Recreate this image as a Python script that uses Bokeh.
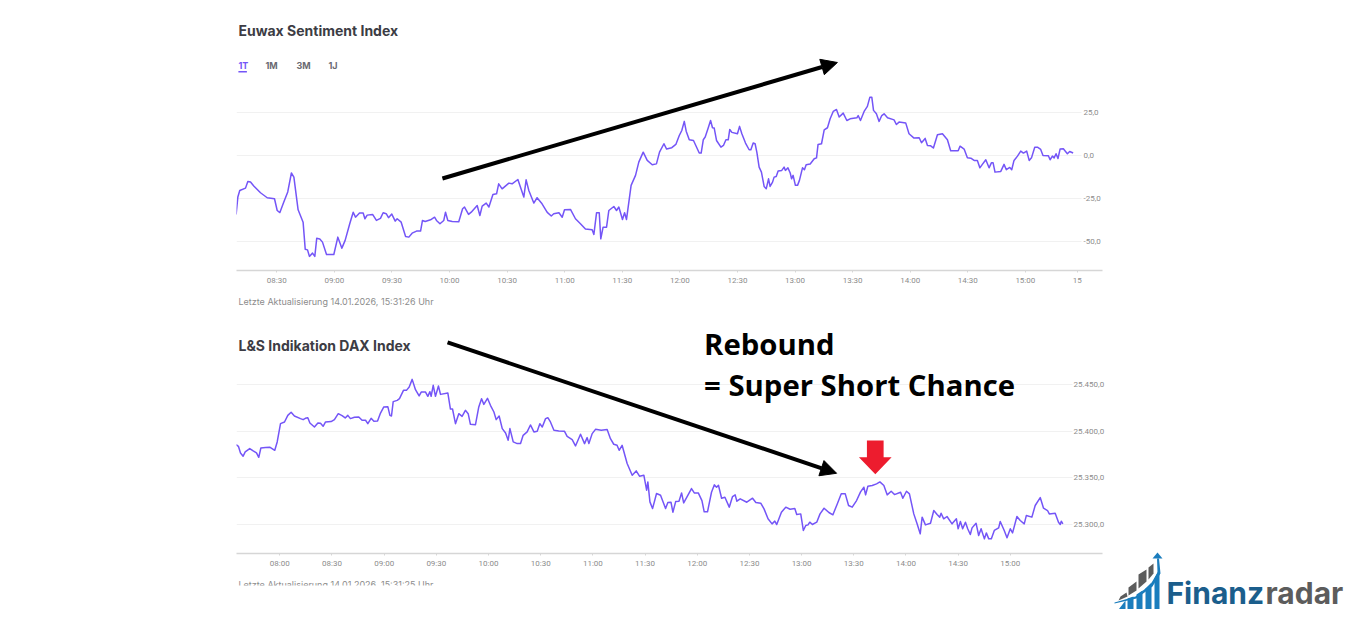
from bokeh.embed import file_html
from bokeh.layouts import column, row
from bokeh.models import Arrow, FixedTicker, Label, NormalHead, PolyAnnotation, Range1d
from bokeh.plotting import figure
from bokeh.resources import INLINE

# minutes since midnight, value
euwax_min = [488.8, 489.7, 490.7, 493.7, 494.9, 496.3, 498, 501.5, 505, 508.8, 510.2, 511.6, 513.6, 515.7, 517.6, 518.9,
             521.1, 523.7, 524.8, 526, 527, 528.6, 529.8, 530.8, 532.4, 533.8, 535.9, 539.7, 541.8, 543.9, 545.6, 548,
             549.8, 551, 553.1, 555, 555.9, 557.1, 559.9, 561.9, 564, 565.4, 567, 568.2, 569.9, 571.7, 572.7, 574.8,
             577.1, 578.8, 580.5, 582.8, 584.9, 585.9, 587.3, 590.1, 592.2, 593.2, 595, 597, 597.9, 599.1, 601.4, 604.8,
             606.8, 607.8, 609.9, 611.3, 614.4, 615.8, 617, 619.1, 620.5, 622.6, 624.5, 625.6, 627.4, 630.9, 632.6,
             635.6, 638.7, 639.9, 641.3, 643.9, 645.6, 648.2, 650.9, 653, 654.3, 657, 658.7, 659.9, 663, 665.6, 668.2,
             670.8, 674.3, 675.2, 676.6, 678, 678.8, 680, 681.8, 683, 685.6, 687, 688.2, 690.1, 691.2, 692.2, 694.6,
             696.9, 698.6, 700.9, 703, 705.6, 707.8, 709.4, 711.7, 713.1, 715.8, 717.9, 719.7, 721, 722.3, 723.3, 724.9,
             727.1, 730.1, 731.1, 732.2, 733.2, 734.8, 736, 737, 737.9, 739.1, 741.4, 742.7, 744, 745.2, 746, 747.1,
             750, 751.1, 752.3, 754.2, 756.1, 757, 758.2, 759.2, 760.1, 761.3, 762.5, 763.9, 765, 766.2, 767, 768.3,
             769.1, 770.2, 771.2, 773.1, 774.3, 775, 776.3, 777.5, 778.2, 779, 780.2, 781.3, 782.3, 783.9, 784.9, 785.8,
             787.9, 790, 791.2, 792, 793.8, 795.2, 796.9, 798.3, 799.9, 801.6, 803, 805.1, 807, 808.7, 812.2, 812.9,
             814.1, 816, 817.7, 819, 820, 820.9, 822.4, 823.8, 825.2, 826.4, 828.2, 831.6, 832.8, 834.2, 837.7, 839.4,
             842, 844.7, 845.9, 847.8, 849, 850.7, 852.1, 854.2, 856.8, 859.4, 861.1, 865, 866, 868.1, 869.8, 871.6,
             873.3, 875, 876.3, 877.6, 879.4, 881.1, 882.3, 883.2, 884.2, 887.2, 888.9, 890.1, 891.9, 892.9, 894.1,
             895.9, 897.6, 899, 900.7, 902, 903.2, 904.9, 906.3, 908, 909.2, 912, 912.9, 914.1, 915, 916, 917, 918.1,
             919.8, 921.9, 923.1, 924.9]
euwax_val = [-34.1, -24, -20.2, -18.8, -14.9, -15.3, -17.6, -21.5, -24.4, -25, -31.8, -33, -27, -21, -10, -12.4,
             -31.4, -38.6, -54.3, -54.7, -58.5, -56.6, -58.5, -48, -48.4, -50.2, -57.4, -57.4, -47.3, -53.7, -49.2, -39.5,
             -32.8, -35.7, -33.3, -33.3, -36.6, -34.5, -34.1, -37.6, -36.4, -33.1, -33.7, -36, -33.9, -38, -36.6, -38.6,
             -46.9, -47.3, -45, -43.8, -43.8, -37.6, -38.2, -37.2, -35.7, -37.6, -39.5, -37.6, -32.8, -37.6, -38.2, -38.4,
             -30.8, -29.8, -34.1, -32.8, -28.9, -34.7, -29.3, -27.5, -29.8, -22.5, -22.1, -16.3, -19.2, -15.9, -16.3,
             -13.8, -24, -14, -20.2, -27.5, -24.4, -27.9, -32.9, -35, -33.7, -33.1, -35.7, -31.4, -31.2, -36.6, -39.5,
             -42.6, -43, -45.7, -33.1, -33.1, -48.3, -41.5, -41.5, -31.8, -29.5, -31.8, -29.8, -37, -33.1, -37, -17.2,
             -11.4, -3.7, 2.1, -2.7, -5.2, -4.7, 2.1, 7, 3.9, 4.7, 6.6, 11.8, 14.7, 20, 14.3, 9.3,
             8.9, 1.6, 1.6, 9.3, 10.9, 16.3, 20.5, 16.3, 16.1, 8.9, 5, 6, 9.3, 9.3, 15.3, 13.6,
             12.8, 17.1, 12.8, 7.4, 3.5, 3.5, 7.4, 7, 2.1, -6.6, -9.5, -17.8, -19.2, -13.4, -17.8, -15.3,
             -12.4, -12, -8.9, -8.5, -6.6, -8.5, -7, -10, -13.4, -11.4, -17.2, -17.2, -14.3, -7, -8.1, -5.2,
             -4.8, -1.7, -1.2, 6.6, 7, 15.1, 16.3, 21.5, 25.8, 26.9, 22.5, 24.8, 20.5, 21.5, 22.1, 23.4,
             20.5, 25.8, 28.7, 34.1, 34.1, 26.4, 24.4, 20, 23.4, 24.4, 22.1, 20.9, 18.2, 19.6, 19, 12.8,
             10.3, 10.5, 7.6, 10.1, 6, 5.8, 4.5, 12.2, 12.8, 9.3, 2.9, 2.9, 5.6, 3.9, -1.2, -1.4,
             -2.7, -2.7, -7, -5, -2.3, -7, -4.1, -4.1, -9.5, -9.1, -5, -8.1, -6.8, -8.1, -2.7,
             -0.2, 2.7, 1.6, 2.7, -2.7, -1.2, 5, 5, 3.7, 0.2, 0, -2.3, -0.2, -1.2, 1.2, -1.6, 3.9,
             4.1, 1.2, 2.5, 1.6]

dax_min = [454.9, 456.2, 457.4, 458.9, 460.1, 462.7, 464.7, 466.6, 467.9, 469.1, 471.8, 474.2, 477.1, 478.5, 480.4, 482.7,
           484.6, 486.5, 488.4, 491.9, 493.4, 494.7, 496.1, 497.3, 499.9, 501.9, 503.4, 504.9, 506.3, 509.5, 511.4, 513.6,
           515.8, 517.6, 519.1, 520.6, 522.9, 525.4, 527.3, 529.3, 530.6, 532.5, 534.1, 536.2, 537.9, 539.8, 542.1, 543.3,
           544.2, 545.2, 547.5, 548.8, 551.1, 552.8, 554.4, 556.1, 558, 560.1, 561.3, 563.8, 565.1, 566.3, 567, 568.2,
           569.5, 571.2, 572.4, 576.6, 578.1, 579.3, 581, 582.9, 584.8, 586.7, 588.3, 589.6, 592.5, 594.4, 596, 597.3,
           599.4, 601.1, 603.1, 604.4, 606.1, 607.9, 609.8, 611.3, 612.3, 614.2, 616.5, 618.4, 619.9, 622.2, 624.1, 626.1,
           628, 629.5, 630.9, 632.8, 634.1, 635.6, 637.6, 640.4, 643.7, 645.2, 648.1, 650, 652.9, 655.2, 656.7, 657.7,
           659.6, 661.5, 664.8, 668.2, 670.1, 672, 673.9, 675.1, 676.8, 679.7, 682.6, 684.9, 686.8, 689.3, 690.9, 691.6,
           692.8, 694.3, 696.6, 698.9, 701.8, 703.1, 704.9, 706, 707.6, 709.5, 711, 712.2, 714.5, 716.7, 718.3, 720.6,
           722.7, 724, 725.9, 728.2, 729.8, 731.1, 732.2, 734, 735.9, 738.4, 740.3, 741.8, 742.8, 744.7, 748.5, 751.8,
           753.7, 756.5, 758.4, 760.7, 763, 764.6, 765.7, 768.4, 770.9, 773.4, 776.1, 777.2, 779.5, 781, 782.4, 783.7,
           784.7, 786.2, 788.7, 790.6, 792.9, 795.7, 798, 800.5, 802.8, 805.1, 807, 809.1, 811.6, 813.9, 815.8, 816.8,
           818.1, 820.6, 823.1, 825, 827.3, 829.2, 831.5, 833.4, 836.9, 838.2, 840.3, 842, 844.5, 846.4, 848.2, 849.3,
           851.2, 854.1, 856, 857.9, 859.4, 860.2, 861.7, 863.6, 866.5, 869, 870, 871.3, 872.6, 874.2, 875.5, 877,
           878, 880.3, 881.8, 883.2, 885.1, 886.2, 887.6, 889.1, 890.8, 893.3, 894.2, 896.5, 898.1, 900, 901.3, 903.8,
           905.7, 908, 909.2, 912.4, 914.3, 917.2, 919.1, 921.4, 922.4, 925.8, 927.7, 928.7, 929.3, 930.2]
dax_val = [25385.7, 25383.9, 25376.8, 25373.2, 25377.9, 25381.4, 25378.9, 25376.8, 25372.1, 25382.1, 25382.5, 25382.9, 25379.6, 25388.6, 25408.2, 25410,
           25417.1, 25420.4, 25416.4, 25413.6, 25412.5, 25413.9, 25414.6, 25408.9, 25404.6, 25408.9, 25408.6, 25405.4, 25410, 25410.4, 25412.5, 25418.9,
           25416.8, 25414.3, 25417.1, 25413.6, 25415, 25415.4, 25411.8, 25411.8, 25408.2, 25413.9, 25410.7, 25411.1, 25419.6, 25426.1, 25426.4, 25417.1,
           25416.4, 25431.8, 25433.2, 25435, 25443.9, 25443.9, 25447.5, 25455.7, 25444.6, 25437.9, 25442.1, 25442.1, 25437.5, 25442.5, 25437.5, 25449.3,
           25437.5, 25448.6, 25439.6, 25441.1, 25423.9, 25423.9, 25408.2, 25418.9, 25416, 25422.5, 25418.9, 25407.5, 25407.1, 25426.1, 25435, 25428.9,
           25435.4, 25427.9, 25420.7, 25412.5, 25416.4, 25402.9, 25398.2, 25390.4, 25402.9, 25388.6, 25386.8, 25386.8, 25395.7, 25399.3, 25406.8, 25399.3,
           25400, 25408.2, 25404.6, 25413.6, 25414.6, 25410, 25401.1, 25400.4, 25400, 25394.6, 25391.1, 25384.3, 25396.8, 25386.8, 25393.2, 25386.8,
           25397.5, 25402.1, 25401.1, 25401.8, 25392.1, 25386.1, 25385, 25379.6, 25385, 25365.4, 25352.9, 25357.5, 25351.8, 25352.9, 25336.8, 25345.7,
           25324.3, 25317.1, 25333.2, 25331.4, 25317.1, 25323.6, 25323.9, 25313.2, 25324.6, 25325, 25333.9, 25323.2, 25331, 25338.6, 25333.9, 25333.9,
           25325.7, 25313.6, 25313.6, 25334.6, 25342.5, 25340, 25342.1, 25328.2, 25329.3, 25318.6, 25330, 25331.8, 25325, 25327.5, 25323.9, 25328.2,
           25323.6, 25322.9, 25316.8, 25306.1, 25300.7, 25303.6, 25300, 25313.2, 25318.6, 25316.4, 25317.1, 25310.7, 25311.4, 25293.6, 25298.9, 25299.6,
           25302.5, 25300, 25302.5, 25311.4, 25317.5, 25312.9, 25310.4, 25322.1, 25332.9, 25332.9, 25320.4, 25318.6, 25325.7, 25335, 25340, 25331.8,
           25341.1, 25341.8, 25343.6, 25345.7, 25341.8, 25331.8, 25335.7, 25332.1, 25334.6, 25328.2, 25335.7, 25332.9, 25311.4, 25300.7, 25290, 25307.9,
           25299.6, 25301.4, 25315, 25310.7, 25307.9, 25312.1, 25306.1, 25308.6, 25300.7, 25306.1, 25295.4, 25303.2, 25295.4, 25302.5, 25295.4, 25289.3,
           25296.4, 25301.4, 25288.2, 25295.4, 25284.6, 25291, 25284.6, 25284.6, 25293.6, 25296.4, 25303.2, 25293.6, 25285.7, 25295.4, 25291, 25308.6,
           25304.3, 25300.7, 25309.6, 25307.9, 25320.4, 25328.9, 25317.5, 25315, 25311.4, 25312.1, 25302.5, 25300, 25303.6, 25300.7]

euwax_ticks = [510, 540, 570, 600, 630, 660, 690, 720, 750, 780, 810, 840, 870, 900, 927]
euwax_labels = ["08:30", "09:00", "09:30", "10:00", "10:30", "11:00", "11:30", "12:00", "12:30", "13:00", "13:30", "14:00", "14:30", "15:00", "15"]
dax_ticks = [480, 510, 540, 570, 600, 630, 660, 690, 720, 750, 780, 810, 840, 870, 900]
dax_labels = ["08:00", "08:30", "09:00", "09:30", "10:00", "10:30", "11:00", "11:30", "12:00", "12:30", "13:00", "13:30", "14:00", "14:30", "15:00"]
euwax_levels = [25, 0, -25, -50]
euwax_level_labels = ["25,0", "0,0", "-25,0", "-50,0"]
dax_levels = [25300, 25350, 25400, 25450]
dax_level_labels = ["25.300,0", "25.350,0", "25.400,0", "25.450,0"]

PURPLE = "#7455f7"
GREY = "#8c8c8c"
DARK = "#3c3c44"
BLUE = "#1a7dbd"
NAVY = "#1b5e8c"
LOGO_GREY = "#5c5c5c"


def make_chart(width, height, right, x_range, y_range, ticks, labels, levels, level_labels, series_x, series_y,
               grid_end, standoff, bottom):
    p = figure(width=width, height=height, x_range=Range1d(*x_range), y_range=Range1d(*y_range),
               y_axis_location="right", output_backend="svg", toolbar_location=None, frame_align=False,
               min_border_left=236, min_border_right=right, min_border_top=0, min_border_bottom=bottom)
    p.outline_line_color = None
    p.xgrid.visible = False
    p.ygrid.ticker = FixedTicker(ticks=levels)
    p.ygrid.grid_line_color = "#f1f1f1"
    p.ygrid.cross_bounds = (x_range[0], grid_end)
    p.xaxis.ticker = FixedTicker(ticks=ticks)
    p.xaxis.major_label_overrides = dict(zip(ticks, labels))
    p.xaxis.axis_line_color = "#d6d6d6"
    p.xaxis.axis_line_width = 1.5
    p.xaxis.major_tick_line_color = "#d6d6d6"
    p.xaxis.major_tick_in = 0
    p.xaxis.major_tick_out = 2
    p.xaxis.minor_tick_line_color = None
    p.xaxis.major_label_standoff = 3
    p.xaxis.major_label_text_font = "Roboto"
    p.xaxis.major_label_text_font_size = "8px"
    p.xaxis.major_label_text_color = GREY
    p.yaxis.ticker = FixedTicker(ticks=levels)
    p.yaxis.major_label_overrides = dict(zip(levels, level_labels))
    p.yaxis.axis_line_color = None
    p.yaxis.major_tick_line_color = None
    p.yaxis.minor_tick_line_color = None
    p.yaxis.major_label_standoff = standoff
    p.yaxis.major_label_text_align = "left"
    p.yaxis.major_label_text_font = "Roboto"
    p.yaxis.major_label_text_font_size = "8px"
    p.yaxis.major_label_text_color = GREY
    p.line(series_x, series_y, line_color=PURPLE, line_width=1.5, line_join="round")
    return p


# empty figure whose ranges are page pixels
def blank(x0, x1, y0, y1):
    p = figure(width=x1 - x0, height=y1 - y0, x_range=Range1d(x0, x1), y_range=Range1d(y1, y0),
               output_backend="svg", toolbar_location=None, min_border=0, frame_align=False)
    p.axis.visible = False
    p.grid.visible = False
    p.outline_line_color = None
    return p


# page pixels -> data, for the annotations drawn on top of the two screenshots
def page_to_top(px, py):
    return 510 + (px - 276.4) / 1.9193, (155.3 - py) / 1.72


def page_to_bottom(px, py):
    return 480 + (px - 279.3) / 1.739, 25300 + (524.3 - py) / 0.9333


def page_to_page(px, py):
    return px, py


def put_text(p, conv, px, py, text, size, color, font="Inter", style="normal"):
    x, y = conv(px, py)
    p.add_layout(Label(x=x, y=y, text=text, text_font=font, text_font_size=size, text_color=color,
                       text_font_style=style, text_baseline="middle"))


def put_poly(p, conv, pts, color):
    xy = [conv(a, b) for a, b in pts]
    p.add_layout(PolyAnnotation(xs=[q[0] for q in xy], ys=[q[1] for q in xy], fill_color=color, fill_alpha=1,
                                line_color=None, level="annotation"))


def put_arrow(p, conv, start, end, size):
    x0, y0 = conv(*start)
    x1, y1 = conv(*end)
    head = NormalHead(size=size, fill_color="black", line_color="black", line_width=1)
    p.add_layout(Arrow(end=head, x_start=x0, y_start=y0, x_end=x1, y_end=y1, line_color="black", line_width=4))


top = make_chart(1348, 290, 246, (489, 940.2), (-66.7, 155.3 / 1.72), euwax_ticks, euwax_labels,
                 euwax_levels, euwax_level_labels, euwax_min, euwax_val, 929.2, -25, 20)
bottom = make_chart(1110, 257, 8, (455.1, 953), (25268.9, 25521), dax_ticks, dax_labels,
                    dax_levels, dax_level_labels, dax_min, dax_val, 935.8, -35, 22)

put_text(top, page_to_top, 238, 30, "Euwax Sentiment Index", "14px", DARK, style="bold")
put_text(top, page_to_top, 238, 65, "1T", "9px", PURPLE, style="bold")
put_text(top, page_to_top, 265, 65, "1M", "9px", "#6a6a72", style="bold")
put_text(top, page_to_top, 296, 65, "3M", "9px", "#6a6a72", style="bold")
put_text(top, page_to_top, 328, 65, "1J", "9px", "#6a6a72", style="bold")
put_poly(top, page_to_top, [(238, 70.5), (246.5, 70.5), (246.5, 72), (238, 72)], PURPLE)
put_arrow(top, page_to_top, (442, 178), (837, 62), 16)

put_text(bottom, page_to_bottom, 238, 345, "L&S Indikation DAX Index", "14px", DARK, style="bold")
put_arrow(bottom, page_to_bottom, (447, 342), (836, 473), 16)
put_text(bottom, page_to_bottom, 703.5, 343.5, "Rebound", "29.3px", "black", font="Open Sans", style="bold")
put_text(bottom, page_to_bottom, 703.5, 384.5, "= Super Short Chance", "29.3px", "black", font="Open Sans", style="bold")
put_poly(bottom, page_to_bottom, [(866.3, 440.3), (883, 440.3), (883, 457), (891, 457), (874.7, 474), (858.3, 457), (866.3, 457)], "#ed1c2e")

top_note = blank(0, 1348, 290, 318)
put_text(top_note, page_to_page, 238, 300.5, "Letzte Aktualisierung 14.01.2026, 15:31:26 Uhr", "9px", GREY)

# the last line of the lower chart is cut off in the screenshot
bottom_note = blank(0, 1110, 575, 595)
put_text(bottom_note, page_to_page, 238, 583.5, "Letzte Aktualisierung 14.01.2026, 15:31:25 Uhr", "9px", GREY)
put_poly(bottom_note, page_to_page, [(230, 585), (450, 585), (450, 595), (230, 595)], "white")

logo = blank(1110, 1348, 318, 618)
put_poly(logo, page_to_page, [(1118.5, 608.5), (1125, 600), (1125, 608.5)], BLUE)
put_poly(logo, page_to_page, [(1127, 608.5), (1127, 598), (1133, 596), (1133, 608.5)], BLUE)
put_poly(logo, page_to_page, [(1136, 608.5), (1136, 594), (1142, 590), (1142, 608.5)], BLUE)
put_poly(logo, page_to_page, [(1145, 608.5), (1145, 588), (1151, 582), (1151, 608.5)], BLUE)
put_poly(logo, page_to_page, [(1154, 608.5), (1154, 578), (1159, 568), (1159, 608.5)], BLUE)
put_poly(logo, page_to_page, [(1118, 600), (1127, 596), (1126, 592), (1120, 596)], LOGO_GREY)
put_poly(logo, page_to_page, [(1128, 595), (1136, 590), (1136, 581), (1128, 587)], LOGO_GREY)
put_poly(logo, page_to_page, [(1138, 588), (1146, 581), (1146, 569), (1138, 574)], LOGO_GREY)
put_poly(logo, page_to_page, [(1148, 579), (1153, 573), (1153, 563), (1148, 567)], LOGO_GREY)
put_poly(logo, page_to_page, [(1114, 602), (1135, 596), (1150, 584), (1157, 572), (1156.5, 558), (1158.5, 558), (1160, 573),
                              (1152, 586), (1136, 598), (1114, 603)], BLUE)
put_poly(logo, page_to_page, [(1157, 552), (1162, 558), (1152, 558)], BLUE)
put_text(logo, page_to_page, 1166, 592, "Finanz", "30px", NAVY, font="Inter", style="bold")
put_text(logo, page_to_page, 1265, 592, "radar", "30px", LOGO_GREY, font="Inter", style="bold")

page = column(top, top_note, row(column(bottom, bottom_note, spacing=0), logo, spacing=0), spacing=0)
open("out.html", "w").write(file_html(page, INLINE))
